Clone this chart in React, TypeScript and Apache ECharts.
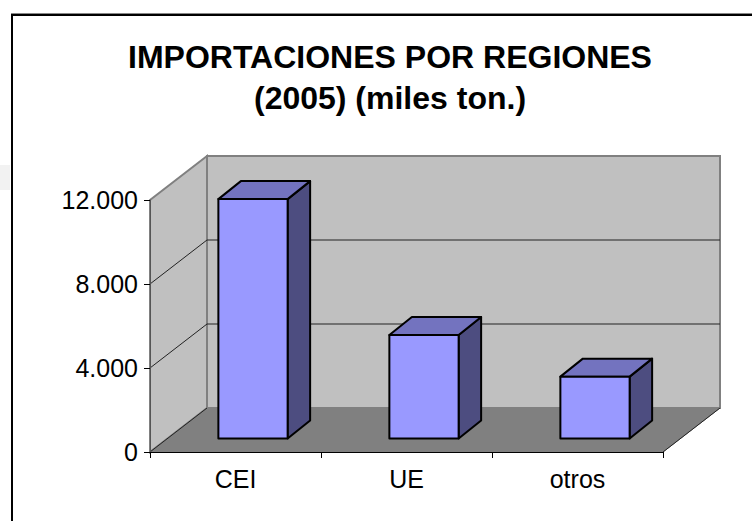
import React, { useEffect, useRef } from "react";
import * as echarts from "echarts";

const titleLines = ["IMPORTACIONES POR REGIONES", "(2005) (miles ton.)"];
const categories = ["CEI", "UE", "otros"];
const values = [11400, 4930, 2945];
const yTicks = [0, 4000, 8000, 12000];
const FONT = '"Liberation Sans", Arial, sans-serif';

const WALL_DX = 57, WALL_DY = -44;
const BAR_DX = 17.5, BAR_DY = -13.5;
const DEPTH_DX = 22.5, DEPTH_DY = -18;

function renderWalls(params: any, api: any) {
  const cs = params.coordSys;
  const L = cs.x, R = cs.x + cs.width, T = cs.y, B = cs.y + cs.height;
  const edge = { stroke: "#808080", lineWidth: 2 };
  const children: any[] = [
    { type: "polygon", shape: { points: [[L + WALL_DX, T + WALL_DY], [R + WALL_DX, T + WALL_DY], [R + WALL_DX, B + WALL_DY], [L + WALL_DX, B + WALL_DY]] }, style: { fill: "#c0c0c0", ...edge } },
    { type: "polygon", shape: { points: [[L, T], [L + WALL_DX, T + WALL_DY], [L + WALL_DX, B + WALL_DY], [L, B]] }, style: { fill: "#c0c0c0", ...edge } },
    { type: "polygon", shape: { points: [[L, B], [L + WALL_DX, B + WALL_DY], [R + WALL_DX, B + WALL_DY], [R, B]] }, style: { fill: "#808080", stroke: "#808080", lineWidth: 1 } },
    { type: "line", shape: { x1: R, y1: B, x2: R + WALL_DX, y2: B + WALL_DY }, style: { stroke: "#222", lineWidth: 1 } },
    { type: "line", shape: { x1: L, y1: B, x2: L + WALL_DX, y2: B + WALL_DY }, style: { stroke: "#222", lineWidth: 1 } },
  ];
  yTicks.slice(1, -1).forEach((t) => {
    const y = api.coord([0, t])[1];
    children.push({
      type: "polyline",
      shape: { points: [[L, y], [L + WALL_DX, y + WALL_DY], [R + WALL_DX, y + WALL_DY]] },
      style: { fill: "none", stroke: "#222", lineWidth: 1 },
    });
  });
  return { type: "group", children };
}

function renderBar(params: any, api: any) {
  const top = api.coord([api.value(0), api.value(1)]);
  const base = api.coord([api.value(0), 0]);
  const w = api.size([1, 0])[0] * 0.405;
  const x0 = top[0] + BAR_DX - w / 2, x1 = x0 + w;
  const y0 = top[1] + BAR_DY, y1 = base[1] + BAR_DY;
  const line = { stroke: "#000", lineWidth: 2, lineJoin: "round" };
  return {
    type: "group",
    children: [
      { type: "polygon", shape: { points: [[x1, y0], [x1 + DEPTH_DX, y0 + DEPTH_DY], [x1 + DEPTH_DX, y1 + DEPTH_DY], [x1, y1]] }, style: { fill: "#4d4d80", ...line } },
      { type: "polygon", shape: { points: [[x0, y0], [x0 + DEPTH_DX, y0 + DEPTH_DY], [x1 + DEPTH_DX, y0 + DEPTH_DY], [x1, y0]] }, style: { fill: "#7373bf", ...line } },
      { type: "polygon", shape: { points: [[x0, y0], [x1, y0], [x1, y1], [x0, y1]] }, style: { fill: "#9999ff", ...line } },
    ],
  };
}

export default function App() {
  const ref = useRef<HTMLDivElement>(null);
  useEffect(() => {
    document.body.style.margin = "0";
    const chart = echarts.init(ref.current!, null, { renderer: "svg" });
    chart.setOption({
      animation: false,
      backgroundColor: "#fff",
      title: {
        text: titleLines.join("\n"),
        left: 385,
        top: 31,
        textAlign: "center",
        textStyle: { fontFamily: FONT, fontWeight: "bold", fontSize: 32, lineHeight: 41, color: "#000" },
      },
      grid: { left: 150, right: 89, top: 200, bottom: 69 },
      xAxis: {
        type: "category",
        data: categories,
        z: 5,
        axisLine: { lineStyle: { color: "#000", width: 1 } },
        axisTick: { show: true, length: 6, lineStyle: { color: "#000" } },
        axisLabel: { fontFamily: FONT, fontSize: 25, color: "#000", margin: 14 },
      },
      yAxis: {
        type: "value",
        min: 0,
        max: 12000,
        interval: 4000,
        z: 5,
        axisLine: { show: true, lineStyle: { color: "#555", width: 1 } },
        axisTick: { show: true, length: 6, lineStyle: { color: "#000" } },
        splitLine: { show: false },
        axisLabel: {
          fontFamily: FONT,
          fontSize: 25,
          color: "#000",
          margin: 12,
          formatter: (v: number) => v.toLocaleString("de-DE"),
        },
      },
      graphic: [
        { type: "rect", z: -1, shape: { x: 0, y: 165, width: 10, height: 25 }, style: { fill: "#f2f2f2" } },
        { type: "line", shape: { x1: 11, y1: 13.5, x2: 752, y2: 13.5 }, style: { stroke: "#888", lineWidth: 1 } },
        { type: "rect", shape: { x: 12, y: 15, width: 800, height: 600 }, style: { fill: "none", stroke: "#000", lineWidth: 2 } },
      ],
      series: [
        { type: "custom", z: 1, silent: true, clip: false, renderItem: renderWalls, data: [[0, 0]], encode: { x: 0, y: 1 } },
        { type: "custom", z: 3, clip: false, renderItem: renderBar, data: categories.map((_, i) => [i, values[i]]), encode: { x: 0, y: 1 } },
      ],
    });
    return () => chart.dispose();
  }, []);
  return <div ref={ref} style={{ width: 752, height: 521 }} />;
}
